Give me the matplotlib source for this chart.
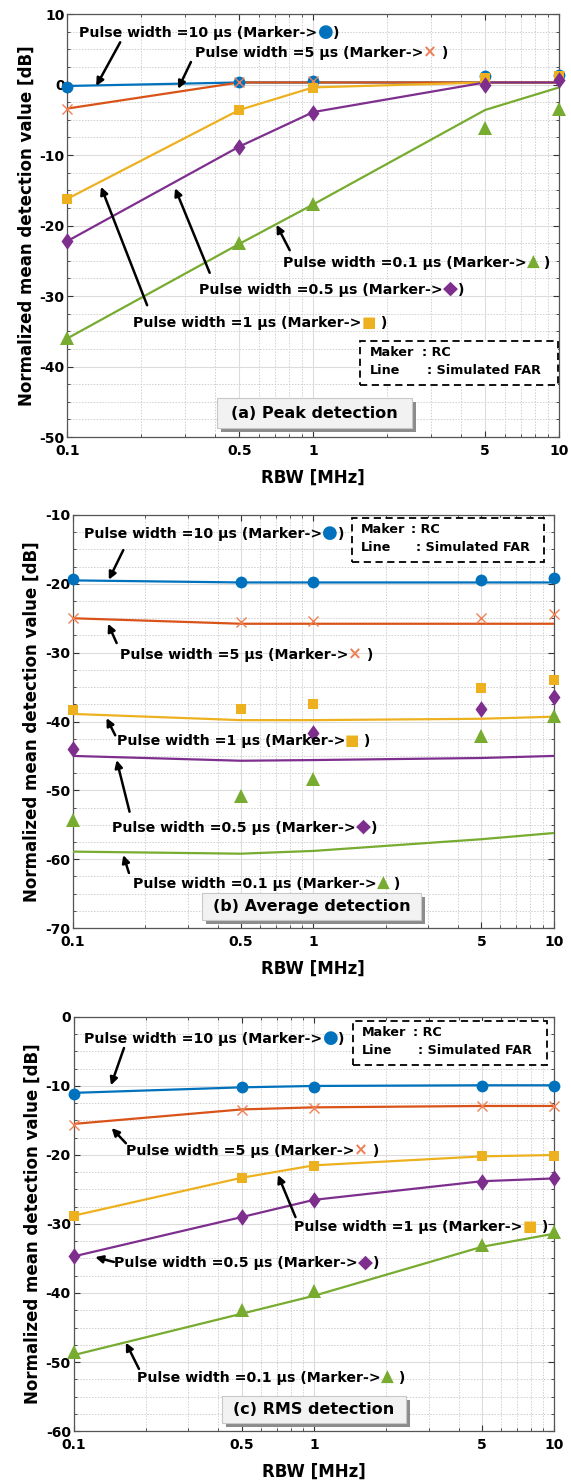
import numpy as np
import matplotlib
matplotlib.use('Agg')
import matplotlib.pyplot as plt
from matplotlib.patches import Rectangle
from matplotlib.path import Path
from matplotlib.ticker import FixedLocator, NullFormatter, MultipleLocator
from matplotlib.offsetbox import TextArea, HPacker, AnnotationBbox

plt.rcParams['font.family'] = ['DejaVu Sans', 'Noto Sans CJK JP']
plt.rcParams['font.weight'] = 'bold'
plt.rcParams['axes.labelweight'] = 'bold'
plt.rcParams['axes.unicode_minus'] = False

rbw = [0.1, 0.5, 1, 5, 10]

# measured (RC) values, dB
peak_rc_10 = [-0.4, 0.4, 0.5, 1.2, 1.4]
peak_rc_5 = [-3.5, 0.3, 0.5, 1.0, 1.2]
peak_rc_1 = [-16.2, -3.6, -0.5, 1.0, 1.2]
peak_rc_05 = [-22.2, -8.8, -4.0, 0.0, 0.7]
peak_rc_01 = [-36.0, -22.5, -16.9, -6.1, -3.4]
# simulated FAR values, dB
peak_far_10 = [-0.2, 0.3, 0.3, 0.3, 0.3]
peak_far_5 = [-3.4, 0.3, 0.3, 0.3, 0.3]
peak_far_1 = [-16.2, -3.6, -0.4, 0.3, 0.3]
peak_far_05 = [-22.2, -8.8, -3.9, 0.3, 0.3]
peak_far_01 = [-36.0, -22.6, -17.0, -3.6, -0.4]

avg_rc_10 = [-19.3, -19.7, -19.7, -19.4, -19.2]
avg_rc_5 = [-25.0, -25.6, -25.4, -24.9, -24.4]
avg_rc_1 = [-38.3, -38.2, -37.4, -35.2, -34.0]
avg_rc_05 = [-44.0, np.nan, -41.7, -38.2, -36.4]
avg_rc_01 = [-54.3, -50.8, -48.4, -42.1, -39.2]
avg_far_10 = [-19.5, -19.8, -19.8, -19.8, -19.8]
avg_far_5 = [-25.0, -25.8, -25.8, -25.8, -25.8]
avg_far_1 = [-38.9, -39.8, -39.8, -39.6, -39.3]
avg_far_05 = [-45.0, -45.7, -45.6, -45.3, -45.0]
avg_far_01 = [-58.9, -59.2, -58.8, -57.1, -56.2]

rms_rc_10 = [-11.2, -10.2, -10.1, -10.0, -10.0]
rms_rc_5 = [-15.7, -13.5, -13.2, -12.9, -12.9]
rms_rc_1 = [-28.8, -23.3, -21.6, -20.2, -20.1]
rms_rc_05 = [-34.7, -29.0, -26.5, -23.9, -23.4]
rms_rc_01 = [-48.5, -42.5, -39.7, -33.0, -31.1]
rms_far_10 = [-11.0, -10.2, -10.0, -9.9, -9.9]
rms_far_5 = [-15.5, -13.4, -13.1, -12.9, -12.9]
rms_far_1 = [-28.8, -23.3, -21.5, -20.2, -20.0]
rms_far_05 = [-34.7, -29.0, -26.5, -23.8, -23.4]
rms_far_01 = [-49.0, -43.0, -40.4, -33.3, -31.4]

pulse_widths = ['10', '5', '1', '0.5', '0.1']
line_colors = ['#0072BD', '#D95319', '#EDB120', '#7E2F8E', '#77AC30']
marker_colors = ['#0072BD', '#EE8055', '#EDB120', '#7E2F8E', '#77AC30']
# taller-than-wide diamond
tall_diamond = Path([(0, 1), (0.72, 0), (0, -1), (-0.72, 0), (0, 1)],
                    [Path.MOVETO, Path.LINETO, Path.LINETO, Path.LINETO, Path.CLOSEPOLY])
markers = ['o', 'x', 's', tall_diamond, '^']
marker_sizes = [8.5, 6.5, 7.2, 12, 9.5]
marker_glyphs = ['●', '×', '■', '◆', '▲']
glyph_sizes = [13, 12, 11, 14, 12]
closers = [')', ' )', ' )', ')', ' )']

FS_NOTE = 10.2


def pulse_note(ax, idx, txt_xy, tail, head):
    tp = dict(fontsize=FS_NOTE, fontweight='bold', color='black')
    parts = [TextArea('Pulse width =%s μs (Marker->' % pulse_widths[idx], textprops=tp),
             TextArea(marker_glyphs[idx], textprops=dict(tp, color=marker_colors[idx],
                                                         fontsize=glyph_sizes[idx])),
             TextArea(closers[idx], textprops=tp)]
    box = HPacker(children=parts, pad=0, sep=0, align='baseline')
    ab = AnnotationBbox(box, txt_xy, xycoords='data', box_alignment=(0, 0.5),
                        frameon=False, pad=0, annotation_clip=False, zorder=6)
    ax.add_artist(ab)
    ax.annotate('', xy=head, xytext=tail, zorder=6,
                arrowprops=dict(arrowstyle='-|>', color='black', lw=1.8,
                                mutation_scale=11, shrinkA=0, shrinkB=0))


def legend_box(ax, x0, y0, x1, y1):
    ax.add_patch(Rectangle((x0, y0), x1 - x0, y1 - y0, transform=ax.transAxes,
                           facecolor='white', edgecolor='black', lw=1.3,
                           linestyle=(0, (4, 2.5)), zorder=7, clip_on=False))
    w = x1 - x0
    ym1 = y0 + (y1 - y0) * 0.73
    ym2 = y0 + (y1 - y0) * 0.33
    kw = dict(transform=ax.transAxes, fontsize=9.2, va='center', zorder=8)
    ax.text(x0 + 0.045 * w, ym1, 'Maker', **kw)
    ax.text(x0 + 0.31 * w, ym1, ': RC', **kw)
    ax.text(x0 + 0.045 * w, ym2, 'Line', **kw)
    ax.text(x0 + 0.335 * w, ym2, ': Simulated FAR', **kw)


def title_box(ax, x0, y0, x1, y1, title):
    dx, dy = 0.008, 0.010
    ax.add_patch(Rectangle((x0 + dx, y0 - dy), x1 - x0, y1 - y0, transform=ax.transAxes,
                           facecolor='#8c8c8c', edgecolor='none', zorder=7))
    ax.add_patch(Rectangle((x0, y0), x1 - x0, y1 - y0, transform=ax.transAxes,
                           facecolor='#f2f2f2', edgecolor='#c8c8c8', lw=0.8, zorder=7))
    ax.text((x0 + x1) / 2, (y0 + y1) / 2, title, transform=ax.transAxes,
            fontsize=11.5, ha='center', va='center', zorder=8)


def setup_axes(ax, ylo, yhi):
    ax.set_xscale('log')
    ax.set_xlim(0.1, 10)
    ax.set_ylim(ylo, yhi)
    ax.xaxis.set_major_locator(FixedLocator(rbw))
    ax.set_xticklabels(['0.1', '0.5', '1', '5', '10'])
    minors = [m * d for d in (0.1, 1) for m in range(2, 10) if m != 5]
    ax.xaxis.set_minor_locator(FixedLocator(minors))
    ax.xaxis.set_minor_formatter(NullFormatter())
    ax.yaxis.set_major_locator(MultipleLocator(10))
    ax.yaxis.set_minor_locator(MultipleLocator(2.5))
    ax.grid(which='major', color='#dcdcdc', lw=0.8, ls='-')
    ax.grid(which='minor', color='#d0d0d0', lw=0.7, ls=(0, (1.5, 1.5)))
    ax.tick_params(which='both', direction='in', colors='#333333', labelcolor='black',
                   labelsize=10, top=True, right=True)
    ax.tick_params(axis='y', pad=2)
    ax.tick_params(axis='x', pad=5)
    ax.tick_params(which='major', length=4)
    ax.tick_params(which='minor', length=2)
    for lab in ax.get_xticklabels() + ax.get_yticklabels():
        lab.set_fontweight('bold')
    for s in ax.spines.values():
        s.set_color('#555555')
        s.set_linewidth(0.9)
    ax.set_axisbelow(True)
    ax.set_xlabel('RBW [MHz]', fontsize=12, labelpad=8)
    ax.set_ylabel('Normalized mean detection value [dB]', fontsize=12, labelpad=3)


def draw_series(ax, rc_list, far_list):
    for i, (rc, far) in enumerate(zip(rc_list, far_list)):
        ax.plot(rbw, far, color=line_colors[i], lw=1.6, zorder=3)
        ax.plot(rbw, rc, ls='none', marker=markers[i], ms=marker_sizes[i],
                color=marker_colors[i], mew=1.0 if markers[i] == 'x' else 0,
                zorder=4, clip_on=False)


fig = plt.figure(figsize=(5.71, 14.82), dpi=100)

# (a) peak detection
ax1 = fig.add_axes([0.118, 0.7051, 0.8613, 0.2854])
setup_axes(ax1, -50, 10)
draw_series(ax1, [peak_rc_10, peak_rc_5, peak_rc_1, peak_rc_05, peak_rc_01],
            [peak_far_10, peak_far_5, peak_far_1, peak_far_05, peak_far_01])
pulse_note(ax1, 0, (0.112, 7.4), (0.164, 6.0), (0.131, -0.2))
pulse_note(ax1, 1, (0.329, 4.6), (0.318, 3.2), (0.282, -0.6))
pulse_note(ax1, 2, (0.185, -33.8), (0.211, -31.3), (0.137, -14.5))
pulse_note(ax1, 3, (0.343, -28.9), (0.379, -26.7), (0.274, -14.7))
pulse_note(ax1, 4, (0.754, -25.2), (0.802, -23.5), (0.709, -19.9))
legend_box(ax1, 0.596, 0.123, 0.998, 0.227)
title_box(ax1, 0.304, 0.021, 0.70, 0.092, '(a) Peak detection')

# (b) average detection
ax2 = fig.add_axes([0.1277, 0.3738, 0.842, 0.2787])
setup_axes(ax2, -70, -10)
draw_series(ax2, [avg_rc_10, avg_rc_5, avg_rc_1, avg_rc_05, avg_rc_01],
            [avg_far_10, avg_far_5, avg_far_1, avg_far_05, avg_far_01])
pulse_note(ax2, 0, (0.111, -12.6), (0.162, -15.1), (0.141, -19.4))
pulse_note(ax2, 1, (0.157, -30.2), (0.152, -28.6), (0.140, -25.8))
pulse_note(ax2, 2, (0.152, -42.7), (0.150, -42.0), (0.138, -39.5))
pulse_note(ax2, 3, (0.146, -55.2), (0.172, -53.1), (0.152, -45.6))
pulse_note(ax2, 4, (0.178, -63.4), (0.171, -62.0), (0.162, -59.4))
legend_box(ax2, 0.58, 0.886, 0.98, 0.993)
title_box(ax2, 0.268, 0.019, 0.725, 0.085, '(b) Average detection')

# (c) rms detection
ax3 = fig.add_axes([0.1289, 0.0344, 0.8422, 0.2794])
setup_axes(ax3, -60, 0)
draw_series(ax3, [rms_rc_10, rms_rc_5, rms_rc_1, rms_rc_05, rms_rc_01],
            [rms_far_10, rms_far_5, rms_far_1, rms_far_05, rms_far_01])
pulse_note(ax3, 0, (0.111, -3.0), (0.162, -4.5), (0.143, -9.9))
pulse_note(ax3, 1, (0.165, -19.3), (0.165, -18.3), (0.144, -16.1))
pulse_note(ax3, 2, (0.828, -30.4), (0.837, -29.0), (0.708, -22.9))
pulse_note(ax3, 3, (0.147, -35.5), (0.147, -35.5), (0.123, -34.8))
pulse_note(ax3, 4, (0.184, -52.2), (0.187, -51.0), (0.165, -47.2))
legend_box(ax3, 0.582, 0.884, 0.984, 0.99)
title_box(ax3, 0.309, 0.019, 0.691, 0.085, '(c) RMS detection')

fig.savefig('out.png', dpi=100)
